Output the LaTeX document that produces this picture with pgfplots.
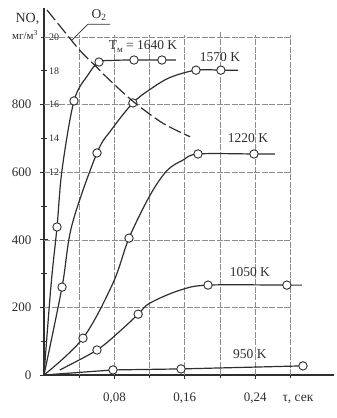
\documentclass[border=0pt]{standalone}
\usepackage{pgfplots}
\pgfplotsset{compat=1.18}
\usepackage{fontspec}
\setmainfont{Liberation Serif}
\definecolor{ink}{gray}{0.18}
\definecolor{gridc}{gray}{0.55}
\pgfplotsset{
  curve/.style={line width=1.2pt, color=ink, smooth, tension=0.55},
  pts/.style={only marks, mark=*, mark size=4.2pt, mark options={fill=white, draw=ink, line width=0.9pt}},
}
\tikzset{lbl/.style={font=\fontsize{13.5}{14}\selectfont, text=ink}}
\begin{document}
\begin{tikzpicture}
\useasboundingbox (0pt,0pt) rectangle (337pt,-418pt);
\begin{axis}[
  at={(44pt,-375pt)}, anchor=south west,
  scale only axis, width=290.4pt, height=366.7pt,
  xmin=0, xmax=0.33, ymin=0, ymax=1085,
  axis lines=left,
  axis line style={-, line width=1.1pt, color=ink},
  xtick={0.08,0.16,0.24}, xticklabels={{0,08},{0,16},{0,24}},
  minor xtick={0.04,0.12,0.2,0.28},
  ytick={0,200,400,600,800}, yticklabels={0,200,400,600,800},
  minor ytick={100,300,500,700,900,1000},
  tick style={color=ink, line width=0.8pt},
  tick align=center,
  major tick length=8pt, minor tick length=6pt,
  ticklabel style={font=\fontsize{13}{13}\selectfont, text=ink},
  xticklabel style={yshift=-10pt},
  yticklabel style={xshift=-5pt},
  clip=false,
]
% grid
\begin{scope}[color=gridc, line width=0.6pt, dash pattern=on 6pt off 1.5pt]
\draw (axis cs:0.04,0) -- (axis cs:0.04,1005);
\draw (axis cs:0.08,0) -- (axis cs:0.08,1005);
\draw (axis cs:0.12,0) -- (axis cs:0.12,1005);
\draw (axis cs:0.16,0) -- (axis cs:0.16,1005);
\draw (axis cs:0.20,0) -- (axis cs:0.20,1015);
\draw (axis cs:0.24,0) -- (axis cs:0.24,1005);
\draw (axis cs:0.28,0) -- (axis cs:0.28,1005);
\draw (axis cs:0,200) -- (axis cs:0.28,200);
\draw (axis cs:0,400) -- (axis cs:0.28,400);
\draw (axis cs:0,600) -- (axis cs:0.28,600);
\draw (axis cs:0,800) -- (axis cs:0.28,800);
\draw (axis cs:0,1000) -- (axis cs:0.28,1000);
\end{scope}
% 1640 K
\addplot[curve] coordinates {(0,0) (0.008,266) (0.0148,438) (0.0205,607) (0.0341,811) (0.05,888) (0.0625,926) (0.08,931) (0.1023,932) (0.134,932) (0.15,932)};
\addplot[pts] coordinates {(0.0148,438) (0.0341,811) (0.0625,926) (0.1023,932) (0.134,932)};
% 1570 K
\addplot[curve] coordinates {(0,0) (0.0205,260) (0.0318,444) (0.0602,657) (0.0773,728) (0.101,805) (0.1205,845) (0.143,880) (0.1727,902) (0.201,902) (0.2205,902)};
\addplot[pts] coordinates {(0.0205,260) (0.0602,657) (0.101,805) (0.1727,902) (0.201,902)};
% 1220 K
\addplot[curve] coordinates {(0,0) (0.0443,109) (0.0784,272) (0.0966,405) (0.1205,532) (0.1398,605) (0.158,636) (0.175,654) (0.2386,654) (0.2625,654)};
\addplot[pts] coordinates {(0.0443,109) (0.0966,405) (0.175,654) (0.2386,654)};
% 1050 K
\addplot[curve] coordinates {(0.018,15) (0.0602,74) (0.0864,130) (0.107,180) (0.1205,213) (0.1545,251) (0.1864,266) (0.276,266) (0.293,266)};
\addplot[pts] coordinates {(0.0602,74) (0.107,180) (0.1864,266) (0.276,266)};
% 950 K
\addplot[line width=1.2pt, color=ink] coordinates {(0,0) (0.0784,15) (0.1557,18) (0.2943,27)};
\addplot[pts] coordinates {(0.0784,15) (0.1557,18) (0.2943,27)};
% labels
\node[lbl] at (axis cs:0.1125,973) {T\raisebox{-0.45ex}{\fontsize{9}{9}\selectfont м} = 1640 K};
\node[lbl] at (axis cs:0.2,941) {1570 K};
\node[lbl] at (axis cs:0.2318,701) {1220 K};
\node[lbl] at (axis cs:0.234,305) {1050 K};
\node[lbl] at (axis cs:0.234,62) {950 K};
\node[lbl] at (axis cs:0.2886,-71) {τ, сек};
\node[font=\fontsize{14}{14}\selectfont, text=ink] at (axis cs:-0.0188,1053) {NO,};
\node[font=\fontsize{11}{11}\selectfont, text=ink] at (axis cs:-0.0216,1006) {мг/м\textsuperscript{3}};
\node[lbl] at (axis cs:0.0625,1065) {O\textsubscript{2}};
\draw[ink, line width=0.7pt] (axis cs:0.0318,991) -- (axis cs:0.05,1038) -- (axis cs:0.075,1038);
\end{axis}
\begin{axis}[
  at={(44pt,-375pt)}, anchor=south west,
  scale only axis, width=290.4pt, height=366.7pt,
  xmin=0, xmax=0.33, ymin=0, ymax=21.7,
  axis x line=none, axis y line*=left,
  axis line style={draw=none},
  ytick={12,14,16,18,20}, yticklabels={12,14,16,18,20},
  major tick length=0pt,
  yticklabel style={anchor=west, xshift=1.5pt, font=\fontsize{10}{10}\selectfont, text=ink},
  clip=false,
]
\addplot[line width=1.2pt, color=ink, smooth, tension=0.5, dash pattern=on 13pt off 4pt] coordinates {(0.0034,21.6) (0.0205,20.5) (0.0409,19.2) (0.0602,18.2) (0.0716,17.6) (0.101,16.2) (0.135,14.9) (0.166,14.1)};
\end{axis}
\end{tikzpicture}
\end{document}
